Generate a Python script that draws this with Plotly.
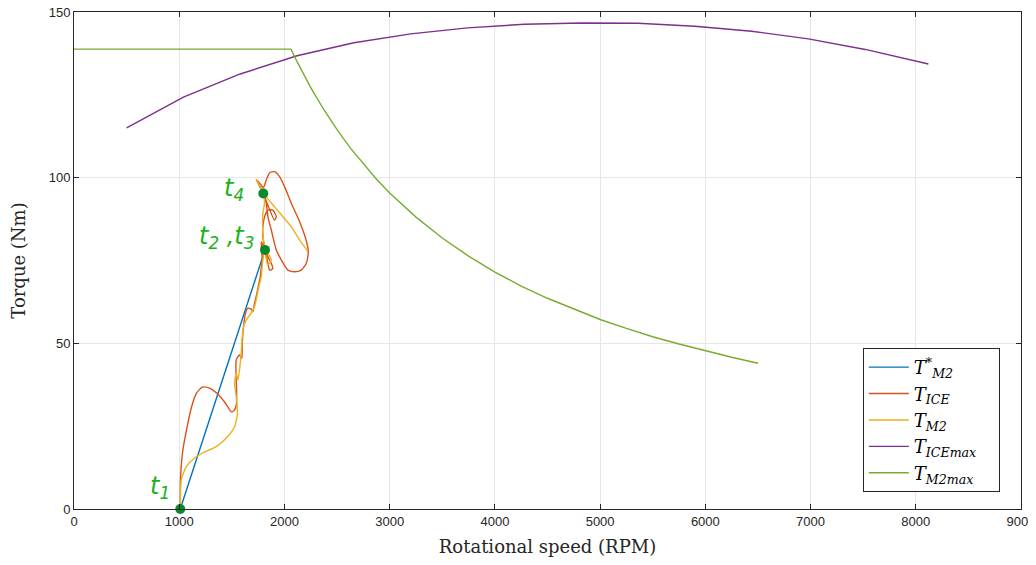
import plotly.graph_objects as go

# ---------------- data ----------------
# T*_M2 reference (straight ramp t1 -> t2)
ref_rpm = [1010, 1815]
ref_tq = [0.0, 78.2]

# T_ICE trajectory
ice_rpm = [1010, 1012, 1031, 1069, 1117, 1164, 1221, 1288, 1355, 1431, 1497, 1526, 1545, 1545,
           1542, 1573, 1595, 1599, 1611, 1630, 1652, 1685, 1700, 1716, 1738, 1757, 1770, 1780,
           1789, 1780, 1815, 1843, 1875, 1890, 1859, 1843, 1815, 1795, 1795, 1811, 1843, 1890,
           1922, 1906, 1799, 1732, 1760, 1800, 1827, 1859, 1906, 1954, 2001, 2065, 2144, 2201,
           2227, 2208, 2160, 2096, 2033, 1970, 1922, 1875, 1843, 1827, 1805]
ice_tq = [0.0, 8.8, 16.9, 23.8, 30.8, 35.0, 36.8, 36.5, 35.0, 32.3, 29.3, 29.9, 32.0, 35.9,
          45.0, 46.5, 45.5, 50.0, 55.0, 59.1, 60.6, 60.3, 59.5, 62.1, 65.1, 68.1, 70.1, 73.1,
          75.1, 80.7, 78.2, 76.1, 74.2, 72.6, 72.1, 74.2, 78.2, 82.2, 85.2, 88.2, 90.2, 90.2,
          88.2, 87.2, 95.2, 99.5, 98.5, 97.0, 99.3, 101.5, 101.8, 100.3, 97.3, 92.3, 86.7, 81.7,
          77.7, 74.2, 72.1, 71.6, 72.1, 75.2, 78.2, 84.2, 88.2, 92.3, 95.0]

# T_M2 trajectory
m2_rpm = [1010, 1012, 1019, 1067, 1146, 1222, 1352, 1459, 1526, 1554, 1542, 1526, 1542, 1557,
          1573, 1589, 1599, 1611, 1637, 1685, 1716, 1738, 1757, 1780, 1789, 1795, 1815, 1875,
          1840, 1815, 1795, 1795, 1811, 1799, 1732, 1827, 1906, 1985, 2065, 2144, 2223]
m2_tq = [0.0, 1.8, 8.8, 12.8, 15.4, 16.9, 18.8, 21.8, 24.8, 29.0, 33.9, 38.0, 41.0, 38.9,
         42.0, 47.1, 52.0, 55.0, 57.0, 59.2, 61.1, 64.1, 67.1, 70.1, 73.1, 75.1, 78.2, 75.2,
         73.6, 78.2, 83.3, 89.3, 92.4, 95.2, 99.5, 94.3, 91.2, 88.2, 85.2, 81.2, 77.7]

# T_ICEmax curve
icemax_rpm = [500, 1040, 1580, 2120, 2660, 3200, 3740, 4280, 4820, 5360, 5900, 6440, 6980, 7520, 8120]
icemax_tq = [115.0, 124.3, 131.3, 136.8, 140.7, 143.4, 145.2, 146.3, 146.7, 146.6, 145.7, 144.2,
             141.9, 138.7, 134.3]

# T_M2max curve
m2max_rpm = [0, 2062, 2125, 2187, 2250, 2375, 2500, 2625, 2750, 2875, 3000, 3250, 3500, 3750,
             4000, 4250, 4500, 4750, 5000, 5250, 5500, 5750, 6000, 6250, 6500]
m2max_tq = [138.8, 138.8, 134.7, 130.9, 127.2, 120.5, 114.5, 109.0, 104.1, 99.5, 95.4, 88.1,
            81.8, 76.3, 71.5, 67.3, 63.6, 60.3, 57.2, 54.5, 52.0, 49.8, 47.7, 45.8, 44.0]

# time-instant markers
pt_rpm = [1010, 1815, 1799]
pt_tq = [0.0, 78.2, 95.2]
lbl_text = ["<i>t<sub>1</sub></i>", "<i>t<sub>2</sub> ,t<sub>3</sub></i>", "<i>t<sub>4</sub></i>"]
lbl_rpm = [935, 1730, 1635]
lbl_tq = [6.6, 82.0, 96.5]

x_ticks = [0, 1000, 2000, 3000, 4000, 5000, 6000, 7000, 8000, 9000]
y_ticks = [0, 50, 100, 150]

# ---------------- figure ----------------
fig = go.Figure()
lw = 1.4
fig.add_trace(go.Scatter(x=ref_rpm, y=ref_tq, mode="lines", line=dict(color="#0072BD", width=lw),
                         name="<i>T</i><sup>*</sup><sub><i>M2</i></sub>"))
fig.add_trace(go.Scatter(x=ice_rpm, y=ice_tq, mode="lines",
                         line=dict(color="#D95319", width=lw, shape="spline", smoothing=0.6),
                         name="<i>T<sub>ICE</sub></i>"))
fig.add_trace(go.Scatter(x=m2_rpm, y=m2_tq, mode="lines",
                         line=dict(color="#EDB120", width=lw, shape="spline", smoothing=0.6),
                         name="<i>T<sub>M2</sub></i>"))
fig.add_trace(go.Scatter(x=icemax_rpm, y=icemax_tq, mode="lines", line=dict(color="#7E2F8E", width=lw),
                         name="<i>T<sub>ICEmax</sub></i>&nbsp;&nbsp;&nbsp;"))
fig.add_trace(go.Scatter(x=m2max_rpm, y=m2max_tq, mode="lines",
                         line=dict(color="#77AC30", width=lw),
                         name="<i>T<sub>M2max</sub></i>"))
fig.add_trace(go.Scatter(x=pt_rpm, y=pt_tq, mode="markers", marker=dict(color="#0A8A2A", size=10),
                         showlegend=False, cliponaxis=False))

for t, xr, yr in zip(lbl_text, lbl_rpm, lbl_tq):
    fig.add_annotation(x=xr, y=yr, text=t, showarrow=False, xanchor="right", yanchor="middle",
                       font=dict(family="DejaVu Sans", size=24, color="#19B219"))

axis_common = dict(showline=True, linecolor="#262626", linewidth=1, mirror="allticks",
                   ticks="inside", ticklen=5, tickcolor="#262626", showgrid=True,
                   gridcolor="#E6E6E6", gridwidth=1, zeroline=False, automargin=False,
                   ticklabeloverflow="allow",
                   tickfont=dict(family="Liberation Sans", size=13, color="#262626"))

fig.update_xaxes(range=[0, 9000], tickvals=x_ticks, ticktext=[str(v) for v in x_ticks],
                 title=dict(text="Rotational speed (RPM)", standoff=12,
                            font=dict(family="DejaVu Serif", size=18, color="#262626")),
                 **axis_common)
fig.update_yaxes(range=[0, 150], tickvals=y_ticks, ticktext=[str(v) for v in y_ticks],
                 title=dict(text="Torque (Nm)", standoff=24,
                            font=dict(family="DejaVu Serif", size=18, color="#262626")),
                 **axis_common)

# the page body adds an 8px margin, so the figure is sized to the remaining window
fig.update_layout(
    width=1028, height=549,
    margin=dict(l=66, r=15, t=4, b=48, autoexpand=False),
    plot_bgcolor="white", paper_bgcolor="white",
    legend=dict(x=0.833, y=0.324, xanchor="left", yanchor="top",
                bordercolor="#262626", borderwidth=1, bgcolor="white",
                font=dict(family="DejaVu Serif", size=18, color="#000000"),
                tracegroupgap=0, itemwidth=40),
    showlegend=True,
)

fig.write_html("out.html")
